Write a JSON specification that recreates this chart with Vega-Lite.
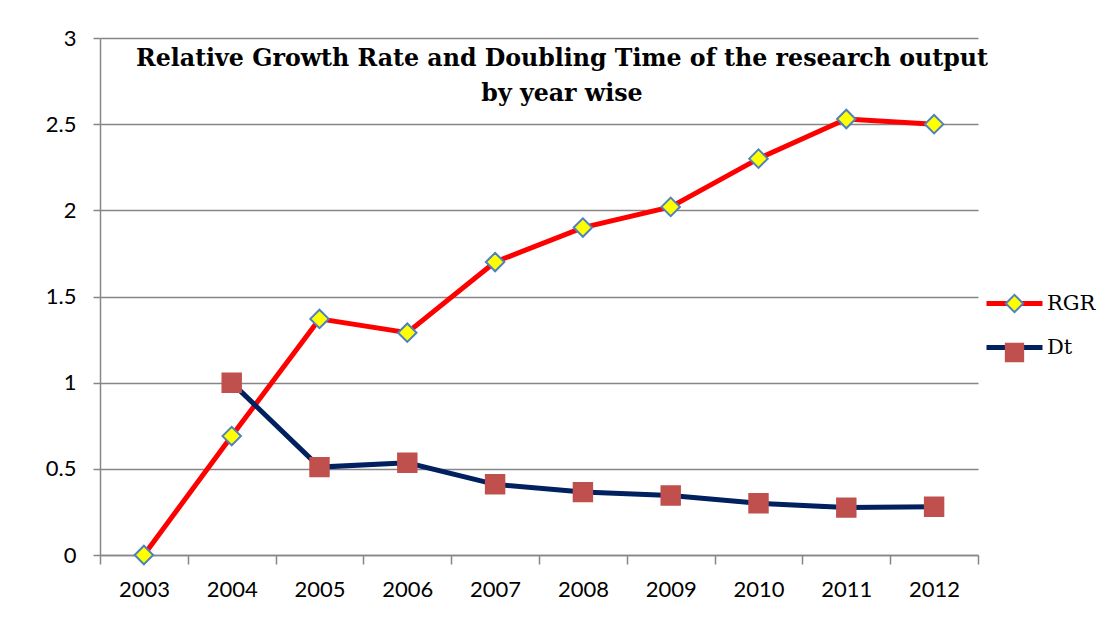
{
  "$schema": "https://vega.github.io/schema/vega-lite/v6.json",
  "width": 878,
  "height": 517,
  "autosize": {"type": "none"},
  "padding": {"left": 100, "top": 38, "right": 137, "bottom": 81},
  "background": "white",
  "title": {
    "text": ["Relative Growth Rate and Doubling Time of the research output", "by year wise"],
    "font": "DejaVu Serif",
    "fontSize": 23.7,
    "fontWeight": "bold",
    "color": "#000000",
    "anchor": "middle",
    "frame": "group",
    "dx": 23,
    "offset": -79,
    "baseline": "top",
    "lineHeight": 35
  },
  "data": {
    "values": [
      {"year": 2003, "RGR": 0, "Dt": null},
      {"year": 2004, "RGR": 0.69, "Dt": 1.0},
      {"year": 2005, "RGR": 1.37, "Dt": 0.51},
      {"year": 2006, "RGR": 1.29, "Dt": 0.535},
      {"year": 2007, "RGR": 1.70, "Dt": 0.41},
      {"year": 2008, "RGR": 1.90, "Dt": 0.365},
      {"year": 2009, "RGR": 2.02, "Dt": 0.345},
      {"year": 2010, "RGR": 2.30, "Dt": 0.30},
      {"year": 2011, "RGR": 2.53, "Dt": 0.275},
      {"year": 2012, "RGR": 2.50, "Dt": 0.28}
    ]
  },
  "encoding": {
    "x": {
      "field": "year",
      "type": "ordinal",
      "bandPosition": 0.5,
      "scale": {"type": "band", "paddingInner": 0, "paddingOuter": 0},
      "axis": {
        "title": null,
        "labelAngle": 0,
        "tickBand": "extent",
        "grid": false,
        "domainColor": "#868686",
        "domainWidth": 1.5,
        "tickColor": "#868686",
        "tickWidth": 1.5,
        "tickSize": 9,
        "labelFont": "Lato",
        "labelFontSize": 22,
        "labelColor": "#000000",
        "labelPadding": 15
      }
    }
  },
  "layer": [
    {
      "transform": [{"fold": ["RGR", "Dt"], "as": ["series", "value"]}],
      "mark": {"type": "line", "strokeWidth": 5},
      "encoding": {
        "y": {
          "field": "value",
          "type": "quantitative",
          "scale": {"domain": [0, 3], "nice": false},
          "axis": {
            "title": null,
            "values": [0, 0.5, 1, 1.5, 2, 2.5, 3],
            "format": "~g",
            "grid": true,
            "gridColor": "#868686",
            "gridWidth": 1.5,
            "domainColor": "#868686",
            "domainWidth": 1.5,
            "tickColor": "#868686",
            "tickWidth": 1.5,
            "tickSize": 7,
            "labelPadding": 17,
            "labelFont": "Lato",
            "labelFontSize": 22,
            "labelColor": "#000000"
          }
        },
        "color": {
          "field": "series",
          "type": "nominal",
          "sort": "descending",
          "scale": {"range": ["#FF0000", "#002060"]},
          "legend": {
            "title": null,
            "orient": "none",
            "legendX": 904,
            "legendY": 255,
            "symbolType": "M-4,0H4",
            "symbolSize": 196,
            "symbolStrokeWidth": 5,
            "labelOffset": 22,
            "labelFont": "DejaVu Serif",
            "labelFontSize": 21,
            "labelColor": "#000000",
            "rowPadding": 22,
            "padding": 0
          }
        }
      }
    },
    {
      "transform": [{"fold": ["RGR", "Dt"], "as": ["series2", "value2"]}],
      "mark": {"type": "point", "filled": true, "size": 340, "strokeWidth": 2, "opacity": 1},
      "encoding": {
        "y": {
          "field": "value2",
          "type": "quantitative",
          "scale": {"domain": [0, 3], "nice": false},
          "axis": {
            "title": null,
            "values": [0, 0.5, 1, 1.5, 2, 2.5, 3],
            "format": "~g",
            "grid": true,
            "gridColor": "#868686",
            "gridWidth": 1.5,
            "domainColor": "#868686",
            "domainWidth": 1.5,
            "tickColor": "#868686",
            "tickWidth": 1.5,
            "tickSize": 7,
            "labelPadding": 17,
            "labelFont": "Lato",
            "labelFontSize": 22,
            "labelColor": "#000000"
          }
        },
        "shape": {
          "field": "series2",
          "type": "nominal",
          "scale": {"domain": ["RGR", "Dt"], "range": ["diamond", "square"]},
          "legend": {
            "title": null,
            "orient": "none",
            "legendX": 904,
            "legendY": 255,
            "symbolSize": 300,
            "symbolStrokeWidth": 2,
            "labelFont": "DejaVu Serif",
            "labelFontSize": 21,
            "labelExpr": "''",
            "rowPadding": 22,
            "padding": 0
          }
        },
        "fill": {
          "field": "series2",
          "type": "nominal",
          "scale": {"domain": ["RGR", "Dt"], "range": ["#FFFF00", "#C0504D"]},
          "legend": {
            "title": null,
            "orient": "none",
            "legendX": 904,
            "legendY": 255,
            "symbolSize": 300,
            "symbolStrokeWidth": 2,
            "labelFont": "DejaVu Serif",
            "labelFontSize": 21,
            "labelExpr": "''",
            "rowPadding": 22,
            "padding": 0
          }
        },
        "stroke": {
          "field": "series2",
          "type": "nominal",
          "scale": {"domain": ["RGR", "Dt"], "range": ["#4F81BD", "#C0504D"]},
          "legend": {
            "title": null,
            "orient": "none",
            "legendX": 904,
            "legendY": 255,
            "symbolSize": 300,
            "symbolStrokeWidth": 2,
            "labelFont": "DejaVu Serif",
            "labelFontSize": 21,
            "labelExpr": "''",
            "rowPadding": 22,
            "padding": 0
          }
        }
      }
    }
  ],
  "config": {
    "view": {"stroke": null}
  }
}
